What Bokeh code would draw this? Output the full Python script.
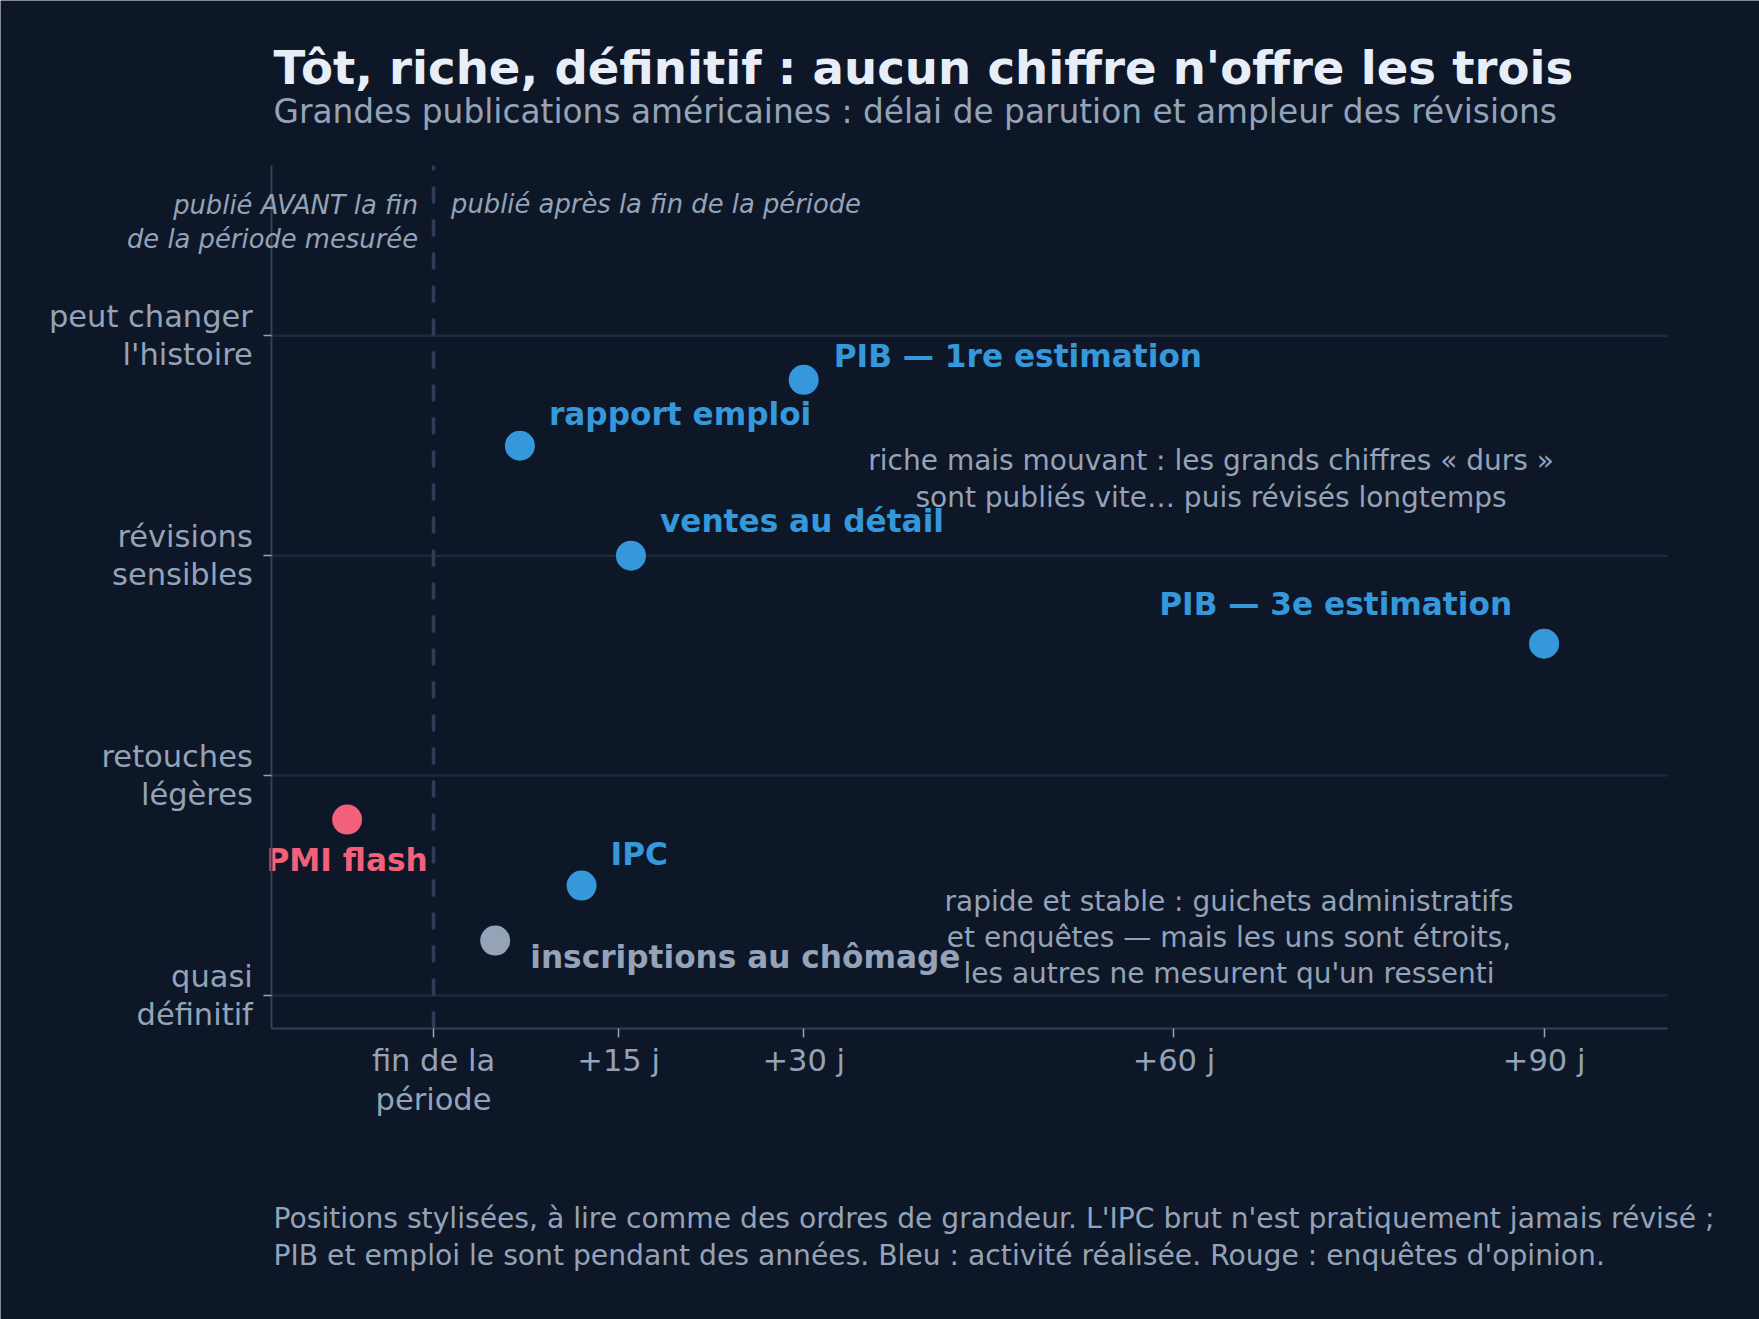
from bokeh.plotting import figure
from bokeh.models import ColumnDataSource, FixedTicker, Label, Range1d
from bokeh.core.properties import value
from bokeh.embed import file_html
from bokeh.resources import INLINE

# --- data -------------------------------------------------------------------
releases = [
    "PIB — 1re estimation",
    "rapport emploi",
    "ventes au détail",
    "PIB — 3e estimation",
    "PMI flash",
    "IPC",
    "inscriptions au chômage",
]
# days between the end of the measured period and publication
delay_days = [30, 7, 16, 90, -7, 12, 5]
# revision scale: 0 = quasi définitif ... 3 = peut changer l'histoire
revision_level = [2.8, 2.5, 2.0, 1.6, 0.8, 0.5, 0.25]
family = ["activité", "activité", "activité", "activité", "enquête", "activité", "administratif"]

x_ticks = [0, 15, 30, 60, 90]
x_tick_labels = ["fin de la\npériode", "+15 j", "+30 j", "+60 j", "+90 j"]
y_ticks = [0, 1, 2, 3]
y_tick_labels = ["quasi\ndéfinitif", "retouches\nlégères", "révisions\nsensibles", "peut changer\nl'histoire"]

# --- style ------------------------------------------------------------------
BG = "#0e1727"
TITLE = "#e8eef8"
MUTED = "#94a3b8"
SPINE = "#334155"
GRID = "#1e293b"
DASH = "#2f3e56"
FONT = "DejaVu Sans"
family_color = {"activité": "#3498db", "enquête": "#f2607a", "administratif": "#94a3b8"}

# page geometry: the frame covers the whole page, the axes sit at fixed places
W, H = 1759, 1319
PX_DAY, PX_LVL = 12.34, 219.9      # pixels per day / per revision level
ORIGIN_X, ORIGIN_Y = 433, 995      # page position of (0 days, level 0)
X_LO, X_HI = -13.1, 100            # extent of the plotting area
Y_LO, Y_HI = -0.15, 3.775

# label placement next to each dot: (dx px, dy px downward, align)
label_place = {
    "PIB — 1re estimation": (30, -24, "left"),
    "rapport emploi": (29, -32, "left"),
    "ventes au détail": (29, -35, "left"),
    "PIB — 3e estimation": (-32, -40, "right"),
    "PMI flash": (0, 40, "center"),
    "IPC": (29, -32, "left"),
    "inscriptions au chômage": (35, 16, "left"),
}

colors = [family_color[f] for f in family]
src = ColumnDataSource(dict(
    x=delay_days, y=revision_level, name=releases, color=colors,
    dx=[label_place[r][0] for r in releases],
    dy=[label_place[r][1] for r in releases],
    align=[label_place[r][2] for r in releases],
))

p = figure(
    width=W, height=H,
    x_range=Range1d(-ORIGIN_X / PX_DAY, (W - ORIGIN_X) / PX_DAY),
    y_range=Range1d(-(H - ORIGIN_Y) / PX_LVL, ORIGIN_Y / PX_LVL),
    output_backend="svg", toolbar_location=None,
    min_border=0, background_fill_color=BG, border_fill_color=BG,
)
p.outline_line_color = None
p.grid.visible = False

for ax in (p.xaxis, p.yaxis):
    ax.axis_line_color = SPINE
    ax.axis_line_width = 2
    ax.major_tick_line_color = MUTED
    ax.major_tick_line_width = 1.5
    ax.major_tick_in = 0
    ax.minor_tick_line_color = None
    ax.major_label_text_color = MUTED
    ax.major_label_text_font = FONT
    ax.major_label_text_font_size = "30.5px"
    ax.major_label_text_line_height = 1.09

p.xaxis.fixed_location = Y_LO
p.xaxis.bounds = (X_LO, X_HI)
p.xaxis.ticker = FixedTicker(ticks=x_ticks)
p.xaxis.major_label_overrides = dict(zip(x_ticks, x_tick_labels))
p.xaxis.major_tick_out = 9
p.xaxis.major_label_standoff = 6

p.yaxis.fixed_location = X_LO
p.yaxis.bounds = (Y_LO, Y_HI)
p.yaxis.ticker = FixedTicker(ticks=y_ticks)
p.yaxis.major_label_overrides = dict(zip(y_ticks, y_tick_labels))
p.yaxis.major_tick_out = 8
p.yaxis.major_label_standoff = 11

# horizontal grid lines across the plotting area
p.segment(x0=[X_LO] * len(y_ticks), x1=[X_HI] * len(y_ticks), y0=y_ticks, y1=y_ticks,
          line_color=GRID, line_width=2.5, level="underlay")
# end of the measured period
p.segment(x0=[0], y0=[Y_LO], x1=[0], y1=[Y_HI], line_color=DASH,
          line_width=3.5, line_dash="17 16", level="underlay")

p.scatter("x", "y", source=src, size=30, fill_color="color", line_color=None)
p.text("x", "y", text="name", source=src, x_offset="dx", y_offset="dy",
       text_align="align", text_baseline="alphabetic", text_color="color",
       text_font=value(FONT), text_font_style="bold", text_font_size="31.2px")


def note(cx, cy, text, size, lift, color=MUTED, style="normal", align="left"):
    # cx, cy: page position of the text baseline (pixels from the top-left)
    p.add_layout(Label(x=cx, y=H - cy + lift, x_units="screen", y_units="screen", text=text,
                       text_font=FONT, text_font_size=f"{size}px", text_font_style=style,
                       text_color=color, text_align=align, text_baseline="alphabetic"))


note(273, 81.7, "Tôt, riche, définitif : aucun chiffre n'offre les trois", 46.6, 14, TITLE, "bold")
note(273, 121.7, "Grandes publications américaines : délai de parution et ampleur des révisions", 32.8, 10)

note(417.5, 213, "publié AVANT la fin", 25.8, 9, style="italic", align="right")
note(417.5, 247, "de la période mesurée", 25.8, 9, style="italic", align="right")
note(450.6, 212.5, "publié après la fin de la période", 25.8, 9, style="italic")

note(1210.6, 467.7, "riche mais mouvant : les grands chiffres « durs »", 28, 7.5, align="center")
note(1210.6, 504, "sont publiés vite… puis révisés longtemps", 28, 7.5, align="center")

note(1228.5, 908.3, "rapide et stable : guichets administratifs", 28, 7.5, align="center")
note(1228.5, 944.3, "et enquêtes — mais les uns sont étroits,", 28, 7.5, align="center")
note(1228.5, 980, "les autres ne mesurent qu'un ressenti", 28, 7.5, align="center")

note(273, 1226.7, "Positions stylisées, à lire comme des ordres de grandeur. L'IPC brut n'est pratiquement jamais révisé ;", 28.2, 8.5)
note(273, 1263.3, "PIB et emploi le sont pendant des années. Bleu : activité réalisée. Rouge : enquêtes d'opinion.", 28.2, 8.5)

open("out.html", "w").write(file_html(p, INLINE))
